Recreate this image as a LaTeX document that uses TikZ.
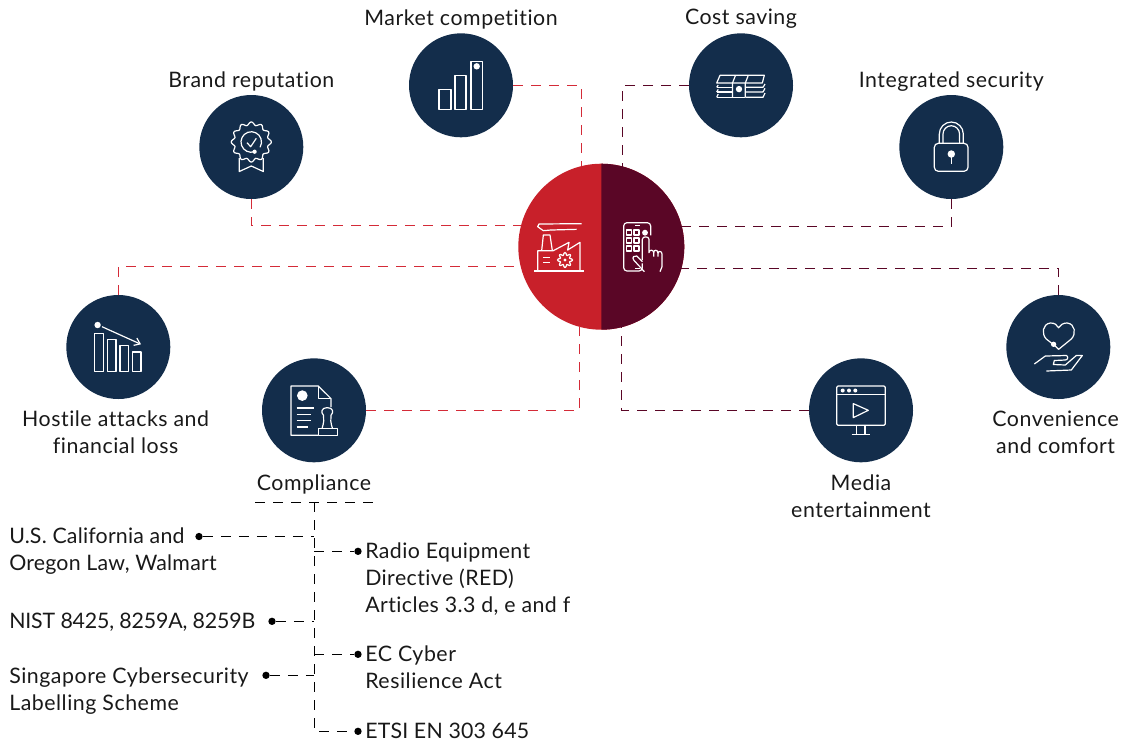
\documentclass[tikz,border=0pt]{standalone}
\usepackage{fontspec}
\usepackage{xcolor}
\setmainfont[LetterSpace=2.5,Ligatures=NoCommon]{Lato}
\usetikzlibrary{arrows.meta, positioning, shapes, calc}
\definecolor{navy}{HTML}{132D4B}
\definecolor{hubred}{HTML}{C8202A}
\definecolor{hubdark}{HTML}{5A0626}
\definecolor{linered}{HTML}{D42B38}
\begin{document}
\begin{tikzpicture}[
    x=0.75pt, y=-0.75pt,
    topic/.style={
        circle,
        fill=navy,
        inner sep=0pt,
        outer sep=0pt,
        minimum size=78pt
    },
    caption/.style={
        align=center,
        inner sep=0pt,
        font=\fontsize{16}{20.25}\selectfont,
        text=black!90
    },
    listtext/.style={
        caption,
        align=left,
        anchor=north west
    },
    tighttext/.style={
        listtext,
        font=\fontsize{16}{20.25}\selectfont\addfontfeature{LetterSpace=#1}
    },
    bullet/.style={
        circle,
        fill=black,
        inner sep=0pt,
        minimum size=5.5pt
    },
    redlink/.style={
        linered,
        line width=0.95pt,
        dash pattern=on 7.5pt off 6pt
    },
    darklink/.style={
        redlink,
        hubdark
    },
    blacklink/.style={
        black,
        line width=0.75pt,
        dash pattern=on 7.5pt off 6pt
    },
    iconline/.style={
        draw=white,
        line width=0.9pt,
        line join=round
    }
]
\useasboundingbox (0,0) rectangle (1123,744);

% topic circles
\node (market) [topic] at (461,85.3) {};
\node (cost) [topic] at (741,85.3) {};
\node (brand) [topic] at (251.3,147) {};
\node (security) [topic] at (951.3,147) {};
\node (hostile) [topic] at (118.3,347) {};
\node (convenience) [topic] at (1058.3,347) {};
\node (compliance) [topic] at (314,410.3) {};
\node (media) [topic] at (861,410.3) {};

% centre circle, two halves
\node (hub) [circle, fill=hubred, inner sep=0pt, outer sep=0pt, minimum size=124.5pt] at (601.3,246.7) {};
\fill [hubdark] (hub.north) arc [start angle=90, end angle=-90, radius=62.25pt] -- cycle;

% captions
\node (marketcap) [caption, above=3.2pt of market] {Market competition};
\node (costcap) [caption, above=3.2pt of cost] {Cost saving};
\node (brandcap) [caption, above=2.5pt of brand] {Brand reputation};
\node (securitycap) [caption, above=2.5pt of security] {Integrated security};
\node (hostilecap) [caption, below=9pt of hostile, xshift=-2pt] {Hostile attacks and\\financial loss};
\node (conveniencecap) [caption, below=9pt of convenience, xshift=-2pt] {Convenience\\and comfort};
\node (compliancecap) [caption, below=9pt of compliance] {Compliance};
\node (mediacap) [caption, below=9pt of media] {Media\\entertainment};

% connectors to the centre
\draw [redlink] (market.east) -| (hub.104.66);
\draw [redlink] (brand.south) |- (hub.165.34);
\draw [redlink] (hostile.north) |- (hub.194.66);
\draw [redlink] (compliance.east) -| (hub.255.34);
\draw [darklink] (cost.west) -| (hub.75.34);
\draw [darklink] (security.south) |- (hub.14.66);
\draw [darklink] (convenience.north) |- (hub.345.34);
\draw [darklink] (media.west) -| (hub.284.66);

% standards list
\coordinate (listleft) at (255,502.3);
\coordinate (listright) at (375,502.3);
\coordinate (trunktop) at (314.3,502.3);
\node (dotus) [bullet] at (199,536.5) {};
\node (dotnist) [bullet] at (272,621.3) {};
\node (dotsg) [bullet] at (266,675.3) {};
\node (dotred) [bullet] at (358,551.3) {};
\node (dotec) [bullet] at (358,654.3) {};
\node (dotetsi) [bullet] at (358,731.3) {};
\node (txtus) [tighttext=1] at (9,528) {U.S. California and\\Oregon Law, Walmart};
\node (txtnist) [tighttext=-0.8] at (9,613) {NIST 8425, 8259A, 8259B};
\node (txtsg) [listtext] at (9,668) {Singapore Cybersecurity\\Labelling Scheme};
\node (txtred) [tighttext=2] at (365,543) {Radio Equipment\\Directive (RED)\\Articles 3.3 d, e and f};
\node (txtec) [listtext] at (365,646) {EC Cyber\\Resilience Act};
\node (txtetsi) [tighttext=1] at (365,723) {ETSI EN 303 645};

\draw [blacklink] (listleft) -- (listright);
\draw [blacklink] (trunktop) |- (dotetsi);
\draw [blacklink] (dotus) -- (dotus -| trunktop);
\draw [blacklink] (dotnist) -- (dotnist -| trunktop);
\draw [blacklink] (dotsg) -- (dotsg -| trunktop);
\draw [blacklink] (dotred -| trunktop) -- (dotred);
\draw [blacklink] (dotec -| trunktop) -- (dotec);

% market icon
\begin{scope}[shift={(market)}]
\draw [iconline] (-22,4) rectangle (-10,24);
\draw [iconline] (-6,-10) rectangle (5,24);
\draw [iconline] (10,-24) rectangle (21.5,24);
\fill [white] (15.7,-19) circle [radius=2.4pt];
\end{scope}

% cost icon
\begin{scope}[shift={(cost)}]
\draw [iconline] (-24.3,-2.3) -- (-21,-10) -- (23.3,-10) -- (21.3,-2.3) -- cycle;
\foreach \yy/\zz in {2/-2.3, 6.7/2, 12/6.7} {
    \draw [iconline] (-24.3,\yy) -- (-8.5,\yy);
    \draw [iconline] (4.3,\yy) -- (22,\yy) -- (24,{\zz+1});
    \draw [iconline] (-24.3,\yy) -- (-22.8,{\zz+2});
}
\draw [iconline] (-8.5,12) -- (-8.5,-2.3) -- (-5.5,-10);
\draw [iconline] (4.3,12) -- (4.3,-2.3) -- (7.3,-10);
\draw [iconline] (-8.5,12) -- (4.3,12);
\fill [white] (-2,3.8) circle [radius=2.4pt];
\end{scope}

% brand icon
\begin{scope}[shift={(brand)}]
\draw [iconline] plot [domain=0:360, samples=97, smooth] ({(18.5+1.6*cos(12*\x))*cos(\x)},{-5+(18.5+1.6*cos(12*\x))*sin(\x)}) -- cycle;
\draw [iconline] (3.3,4.7) arc [start angle=-71, end angle=-391, radius=7.7pt];
\draw [iconline] (-4.3,-4.3) -- (-0.6,-0.3) -- (5,-8.7);
\fill [white] (3.3,4.7) circle [radius=1.6pt];
\draw [iconline] (-12,11) -- (-12,24.5) -- (0,19) -- (12,24.5) -- (12,11);
\end{scope}

% security icon
\begin{scope}[shift={(security)}]
\draw [iconline, rounded corners=3pt] (-17,-3.7) rectangle (16.7,24.3);
\draw [iconline] (-12,-3.7) -- (-12,-13) arc [start angle=180, end angle=0, radius=9pt] -- (12,-3.7);
\draw [iconline] (-8.3,-3.7) -- (-8.3,-13) arc [start angle=180, end angle=0, radius=6.2pt] -- (8.3,-3.7);
\fill [white] (0,7) circle [radius=2.8pt];
\draw [iconline] (0,7) -- (0,17);
\end{scope}

% hostile icon
\begin{scope}[shift={(hostile)}]
\draw [iconline] (-23.7,-13.7) rectangle (-14.7,24.7);
\draw [iconline] (-10.7,-7.7) rectangle (-2.3,24.7);
\draw [iconline] (1.7,-1.3) rectangle (10.3,24.7);
\draw [iconline] (14.3,5) rectangle (22.7,24.7);
\fill [white] (-20.7,-22) circle [radius=2.4pt];
\draw [iconline, -{Straight Barb[length=4pt,width=6pt]}] (-16.3,-20.3) -- (22.7,-2.7);
\end{scope}

% compliance icon
\begin{scope}[shift={(compliance)}]
\draw [iconline] (17,-3.3) -- (17,-11.7) -- (4.3,-24.3) -- (-23,-24.3) -- (-23,25) -- (4.3,25);
\draw [iconline] (4.3,-24.3) -- (4.3,-11.7) -- (17,-11.7);
\fill [white] (-11.7,-14.7) circle [radius=4pt];
\draw [iconline] (-17.3,-2.3) -- (0.3,-2.3);
\draw [iconline] (-17.3,4) -- (-3,4);
\draw [iconline] (-17.3,10.3) -- (-3,10.3);
\draw [iconline] (-17.3,16.7) -- (-6.3,16.7);
\draw [iconline] (4.3,18.3) rectangle (23.3,25);
\draw [iconline] (8,18.3) .. controls (10,12) and (10,9) .. (9.5,5) .. controls (6.5,2) and (7.5,-2.7) .. (13.3,-2.7) .. controls (19,-2.7) and (20,2) .. (17,5) .. controls (16.5,9) and (16.5,12) .. (18.5,18.3);
\end{scope}

% media icon
\begin{scope}[shift={(media)}]
\draw [iconline, rounded corners=1pt] (-24.3,-24.3) rectangle (24.3,15);
\draw [iconline] (-24.3,-15.5) -- (24.3,-15.5);
\foreach \xx in {-18.3,-12,-5.7} {
    \fill [white] (\xx,-19.8) circle [radius=1.5pt];
}
\draw [iconline] (-7.7,-6.7) -- (7.3,0) -- (-7.7,7.3) -- cycle;
\draw [iconline] (-4.3,15) -- (-4.3,24.3);
\draw [iconline] (4,15) -- (4,24.3);
\draw [iconline] (-9.3,24.3) -- (9,24.3);
\end{scope}

% convenience icon
\begin{scope}[shift={(convenience)}]
\draw [iconline] (-2.5,-0.5) -- (-12,-8) .. controls (-17,-13) and (-16,-23) .. (-8,-24) .. controls (-4,-24.3) and (-1,-22) .. (0.3,-19.3) .. controls (2,-22) and (5,-24.3) .. (9,-24) .. controls (17,-23) and (18,-13) .. (13,-8) -- (0.3,2.3) -- (-2.5,-0.5);
\fill [white] (-4.7,-2.7) circle [radius=2pt];
\draw [iconline] (-24,17) -- (-13,9) -- (8,8.5) .. controls (10,9) and (10,13) .. (7,13) -- (-4,13.5) -- (-5,17.5) -- (7,18) -- (18,8.5) -- (24,8.5) -- (13,23) -- (-12,24);
\end{scope}

% factory icon, centre left
\begin{scope}[shift={(525,210)}, x=0.25pt, y=-0.25pt]
\draw [iconline] (28,183) -- (178,183);
\draw [iconline] (38,183) -- (38,122) -- (85,122) -- (132,97) -- (128,120) -- (165,97) -- (165,183);
\draw [iconline] (50,122) -- (55,75) -- (75,75) -- (82,122);
\draw [iconline] (170,41) -- (42,42) -- (38,50) -- (55,62) -- (78,60);
\draw [iconline] (78,60) -- (155,58);
\draw [iconline] (55,143) -- (75,143);
\draw [iconline] (55,158) -- (75,158);
\draw [iconline] plot [domain=0:360, samples=65, smooth] ({120+(18.5+4*cos(8*\x))*cos(\x)},{150+(18.5+4*cos(8*\x))*sin(\x)}) -- cycle;
\fill [white] (120,150) circle [radius=1.2pt];
\end{scope}

% phone icon, centre right
\begin{scope}[shift={(525,210)}, x=0.25pt, y=-0.25pt]
\draw [iconline, rounded corners=2.5pt] (352,160) -- (352,183) -- (296,183) -- (296,38) -- (377,38) -- (377,76);
\draw [iconline] (330,47) -- (345,47);
\draw [iconline] (330,175) -- (345,175);
\foreach \xx in {305,327} {
    \foreach \yy in {60,84,108} {
        \draw [iconline] (\xx,\yy) rectangle ++(15,15);
    }
}
\fill [white] (360,68) circle [radius=2.2pt];
\draw [iconline] (352,150) -- (352,88) .. controls (352,78) and (372,78) .. (372,88) -- (372,128) .. controls (372,118) and (386,118) .. (386,128) -- (386,140);
\draw [iconline] (386,128) .. controls (386,118) and (399,118) .. (399,130) -- (399,140);
\draw [iconline] (399,130) .. controls (399,122) and (411,122) .. (411,132) -- (411,170) -- (405,185);
\draw [iconline] (352,155) -- (335,138) .. controls (328,135) and (320,142) .. (326,150) -- (358,185);
\end{scope}
\end{tikzpicture}
\end{document}
